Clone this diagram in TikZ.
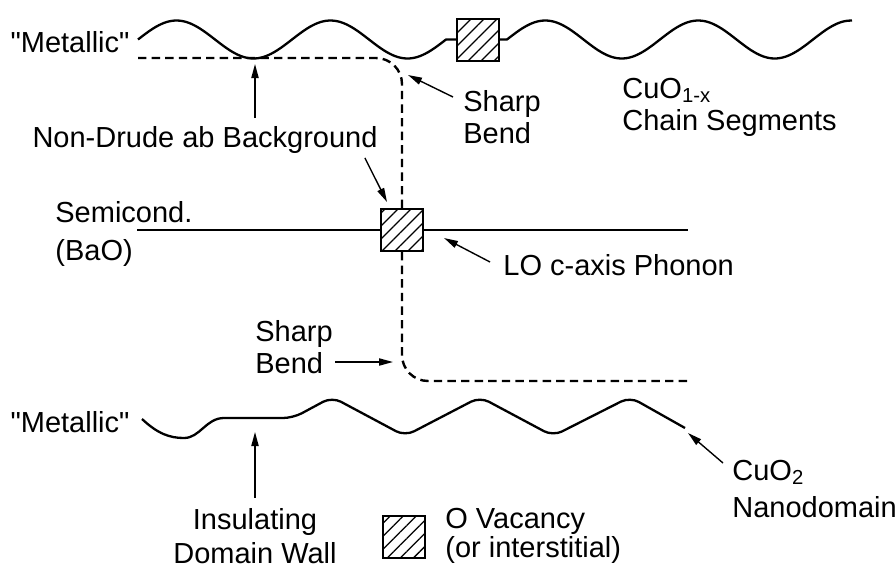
\documentclass[tikz,border=0pt]{standalone}
\usepackage{fontspec}
\setmainfont{Liberation Sans}
\usetikzlibrary{calc,positioning,arrows.meta,patterns.meta}
\tikzset{
  vbox/.style={draw, line width=1pt, minimum size=21pt, inner sep=0pt,
               pattern={Lines[angle=45,distance=4.6pt,line width=0.65pt]}},
  wline/.style={line width=1.15pt, line join=round},
  dline/.style={line width=1.2pt, dash pattern=on 4.2pt off 2.6pt},
  pointer/.style={line width=0.7pt, -{Triangle[length=7pt,width=3.6pt]}},
  lbl/.style={inner sep=1pt, font=\fontsize{14.5}{16}\selectfont, align=left}
}

\begin{document}
\begin{tikzpicture}[x=0.5pt, y=-0.5pt]
  \useasboundingbox (0,0) rectangle (895,568);
  \node[vbox] (vtop) at (477.5,39.5) {};
  \node[vbox] (vmid) at (402,230) {};
  \node[vbox] (vleg) at (403.5,536.5) {};
  \draw[wline] plot[domain=138:446, samples=60, smooth] (\x, {39.5-19*sin((\x-138)/154*360)}) -- (vtop.west);
  \draw[wline] (vtop.east) -- (507,39.5) -- plot[domain=507:852, samples=70, smooth] (\x, {39.5-19*sin((\x-507)/153*360)});
  \draw[wline] (137,230) -- (vmid.west) (vmid.east) -- (688,230);
  \draw[wline] (142,419) .. controls (158,434) and (170,438) .. (184,438)
    .. controls (200,438) and (206,418) .. (224,418);
  \draw[wline, rounded corners=5pt] (224,418) -- (293,418) -- (332,397) -- (405,436)
    -- (480,397) -- (553,436) -- (630,397) -- (685,428);
  \draw[dline, rounded corners=13pt] (138,58) -| (vmid.north);
  \draw[dline, rounded corners=13pt] (vmid.south) |- (687,381);

  \node[lbl] (mettop) at (70,42) {\textquotedbl Metallic\textquotedbl};
  \node[lbl] (nondrude) at (205,140) {Non-Drude ab Background};
  \node[lbl, anchor=west] (sharptop) at (461,117) {Sharp\\Bend};
  \node[lbl, anchor=west] (chain) at (620,107) {CuO\textsubscript{1-x}\\Chain Segments};
  \node[lbl, anchor=west] (semi) at (53,234) {Semicond.\\[3pt](BaO)};
  \node[lbl, anchor=west] (lo) at (501,265) {LO c-axis Phonon};
  \node[lbl, anchor=west] (sharpbot) at (253,347) {Sharp\\Bend};
  \node[lbl] (metbot) at (70,422) {\textquotedbl Metallic\textquotedbl};
  \node[lbl, align=center, font=\fontsize{14.5}{17}\selectfont] (wall) at (255,536) {Insulating\\Domain Wall};
  \node[lbl, anchor=west, font=\fontsize{14.5}{13}\selectfont] (legtext) at (443,536) {O Vacancy\\(or interstitial)};
  \node[lbl, anchor=west] (nano) at (730,489) {CuO\textsubscript{2}\\[2.5pt]Nanodomain};

  \coordinate (bgpt) at (255,64);
  \coordinate (bendtop) at (408,75);
  \coordinate (bendbot) at (393,362);
  \coordinate (wallpt) at (255,432);
  \coordinate (nanopt) at (688,433);
  \draw[pointer] ([yshift=3pt]nondrude.north -| bgpt) -- (bgpt);
  \draw[pointer] ([shift={(-15,2)}]nondrude.south east) -- ([shift={(7,-6)}]vmid.north west);
  \draw[pointer] ([shift={(-8,-20)}]sharptop.west) -- (bendtop);
  \draw[pointer] ([shift={(-11,-3)}]lo.west) -- ([shift={(20,-14)}]vmid.south east);
  \draw[pointer] (sharpbot.east |- bendbot) -- (bendbot);
  \draw[pointer] ([yshift=4pt]wall.north) -- (wallpt);
  \draw[pointer] ([shift={(-7,-26)}]nano.west) -- (nanopt);
\end{tikzpicture}
\end{document}
